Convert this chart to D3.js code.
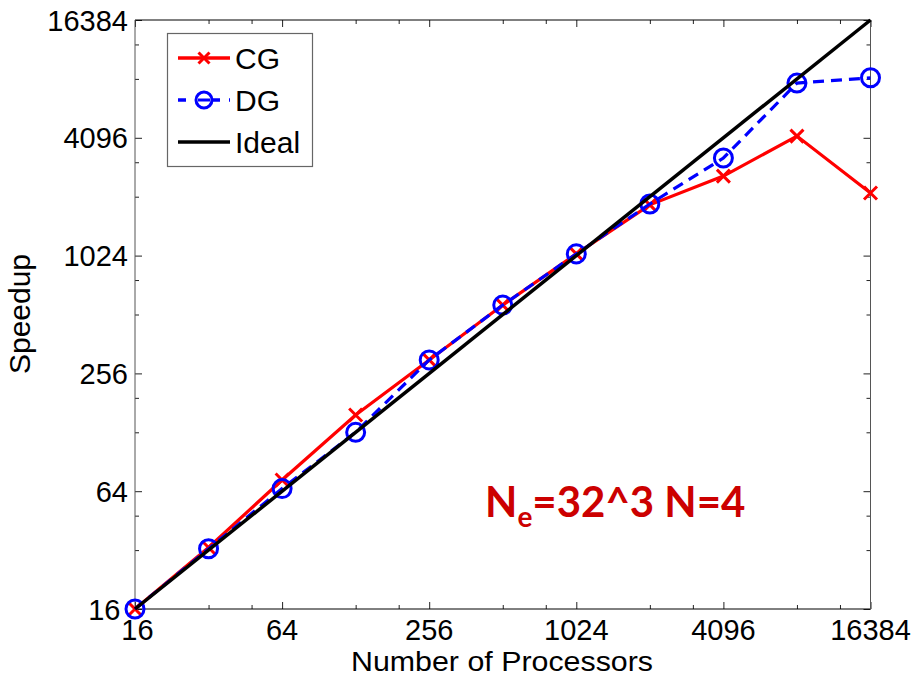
<!DOCTYPE html>
<html>
<head>
<meta charset="utf-8">
<script src="https://cdn.jsdelivr.net/npm/d3@7"></script>
<style>
  html, body { margin: 0; padding: 0; background: #fff; }
  svg { display: block; }
  text { font-family: "Liberation Sans", Arial, sans-serif; }
</style>
</head>
<body>
<svg id="chart" width="916" height="677"></svg>
<script>
// Strong-scaling speedup data
const processors = [16, 32, 64, 128, 256, 512, 1024, 2048, 4096, 8192, 16384];
const cgSpeedup  = [16, 33, 73, 157, 300, 572, 1045, 1860, 2610, 4180, 2140];
const dgSpeedup  = [16, 32.5, 66, 128, 300, 572, 1045, 1880, 3230, 7800, 8300];
const idealSpeedup = [16, 16384];
const majorTicks = [16, 64, 256, 1024, 4096, 16384];
const minorTicks = [32, 48, 128, 192, 512, 768, 2048, 3072, 8192, 12288];

const svg = d3.select("#chart");
const m = { left: 135, right: 870.5, top: 20, bottom: 609 };

const x = d3.scaleLog().base(2).domain([16, 16384]).range([m.left, m.right]);
const y = d3.scaleLog().base(2).domain([16, 16384]).range([m.bottom, m.top]);

// Axes box with inward ticks on all four sides
const g = svg.append("g");
function inwardAxis(axisFn, scale, transform, ticks, len) {
  return g.append("g")
    .attr("transform", transform)
    .call(axisFn(scale).tickValues(ticks).tickSizeInner(-len).tickSizeOuter(0).tickFormat(""))
    .call(s => s.select(".domain").remove())
    .call(s => s.selectAll("line").attr("stroke", "#222").attr("stroke-width", 1));
}
[[majorTicks, 7], [minorTicks, 4]].forEach(([t, len]) => {
  inwardAxis(d3.axisBottom, x, `translate(0,${m.bottom})`, t, len);
  inwardAxis(d3.axisTop, x, `translate(0,${m.top})`, t, len);
  inwardAxis(d3.axisLeft, y, `translate(${m.left},0)`, t, len);
  inwardAxis(d3.axisRight, y, `translate(${m.right},0)`, t, len);
});

g.append("line").attr("x1", m.left).attr("x2", m.right).attr("y1", m.bottom).attr("y2", m.bottom).attr("stroke", "#000");
g.append("line").attr("x1", m.left).attr("x2", m.right).attr("y1", m.top).attr("y2", m.top).attr("stroke", "#000");
g.append("line").attr("x1", m.left).attr("x2", m.left).attr("y1", m.top).attr("y2", m.bottom).attr("stroke", "#555");
g.append("line").attr("x1", m.right).attr("x2", m.right).attr("y1", m.top).attr("y2", m.bottom).attr("stroke", "#555");

// Tick labels (the two corner "16" labels are nudged apart)
const labelFont = 29;
g.selectAll("text.xl").data(majorTicks).join("text")
  .attr("x", (d, i) => x(d) + (i === 0 ? 2.5 : 0)).attr("y", 639.5)
  .attr("text-anchor", "middle").attr("font-size", labelFont).attr("fill", "#000")
  .text(d => d);
g.selectAll("text.yl").data(majorTicks).join("text")
  .attr("x", (d, i) => i === 0 ? 120.5 : 128).attr("y", d => y(d) + 10.5)
  .attr("text-anchor", "end").attr("font-size", labelFont).attr("fill", "#000")
  .text(d => d);

// Axis titles
svg.append("text").attr("x", 351).attr("y", 670.8)
  .attr("font-size", 27.5).attr("textLength", 302).attr("lengthAdjust", "spacingAndGlyphs")
  .text("Number of Processors");
svg.append("text").attr("transform", "translate(30,314) rotate(-90)").attr("text-anchor", "middle")
  .attr("font-size", 30).text("Speedup");

// Series
const line = d3.line().x(d => x(d[0])).y(d => y(d[1]));
const cgPts = processors.map((p, i) => [p, cgSpeedup[i]]);
const dgPts = processors.map((p, i) => [p, dgSpeedup[i]]);
const idealPts = idealSpeedup.map(v => [v, v]);

function crossPath(cx, cy, r) {
  return `M${cx - r},${cy - r}L${cx + r},${cy + r}M${cx - r},${cy + r}L${cx + r},${cy - r}`;
}

g.append("path").datum(cgPts).attr("d", line)
  .attr("fill", "none").attr("stroke", "#ff0000").attr("stroke-width", 3.2);
g.selectAll("path.cgm").data(cgPts).join("path")
  .attr("d", d => crossPath(x(d[0]), y(d[1]), 6.5))
  .attr("stroke", "#ff0000").attr("stroke-width", 3).attr("fill", "none");

g.append("path").datum(dgPts).attr("d", line)
  .attr("fill", "none").attr("stroke", "#0000ff").attr("stroke-width", 3.2)
  .attr("stroke-dasharray", "11,7");
g.selectAll("circle.dgm").data(dgPts).join("circle")
  .attr("cx", d => x(d[0])).attr("cy", d => y(d[1])).attr("r", 9)
  .attr("fill", "none").attr("stroke", "#0000ff").attr("stroke-width", 3);

g.append("path").datum(idealPts).attr("d", line)
  .attr("fill", "none").attr("stroke", "#000").attr("stroke-width", 3.5);

// Legend
const lg = svg.append("g");
lg.append("rect").attr("x", 167.5).attr("y", 33.5).attr("width", 145).attr("height", 133)
  .attr("fill", "#fff").attr("stroke", "#666").attr("stroke-width", 1.2);
const legendRows = [
  { name: "CG", color: "#ff0000", dash: null, marker: "x" },
  { name: "DG", color: "#0000ff", dash: "11,7", marker: "o" },
  { name: "Ideal", color: "#000", dash: null, marker: null }
];
legendRows.forEach((r, i) => {
  const cy = 58 + i * 42;
  lg.append("line").attr("x1", 178).attr("x2", 230).attr("y1", cy).attr("y2", cy)
    .attr("stroke", r.color).attr("stroke-width", 3.5)
    .attr("stroke-dasharray", r.dash ? "8,9" : null);
  if (r.marker === "x") {
    lg.append("path").attr("d", crossPath(204, cy, 5.5)).attr("stroke", r.color).attr("stroke-width", 3);
  } else if (r.marker === "o") {
    lg.append("circle").attr("cx", 204).attr("cy", cy).attr("r", 8)
      .attr("fill", "#fff").attr("stroke", r.color).attr("stroke-width", 3);
    lg.append("line").attr("x1", 198).attr("x2", 210).attr("y1", cy).attr("y2", cy)
      .attr("stroke", r.color).attr("stroke-width", 3);
  }
  lg.append("text").attr("x", 235).attr("y", cy + 11).attr("font-size", 30).text(r.name);
});

// Case annotation
const ann = svg.append("text").attr("x", 485).attr("y", 517)
  .attr("fill", "#cc0000").attr("font-weight", "bold").attr("font-size", 42)
  .style("font-family", "Lato, 'Open Sans', sans-serif");
ann.append("tspan").text("N");
ann.append("tspan").attr("font-size", 28).attr("dy", 10).text("e");
ann.append("tspan").attr("dy", -10).text("=32^3 N=4");
</script>
</body>
</html>
